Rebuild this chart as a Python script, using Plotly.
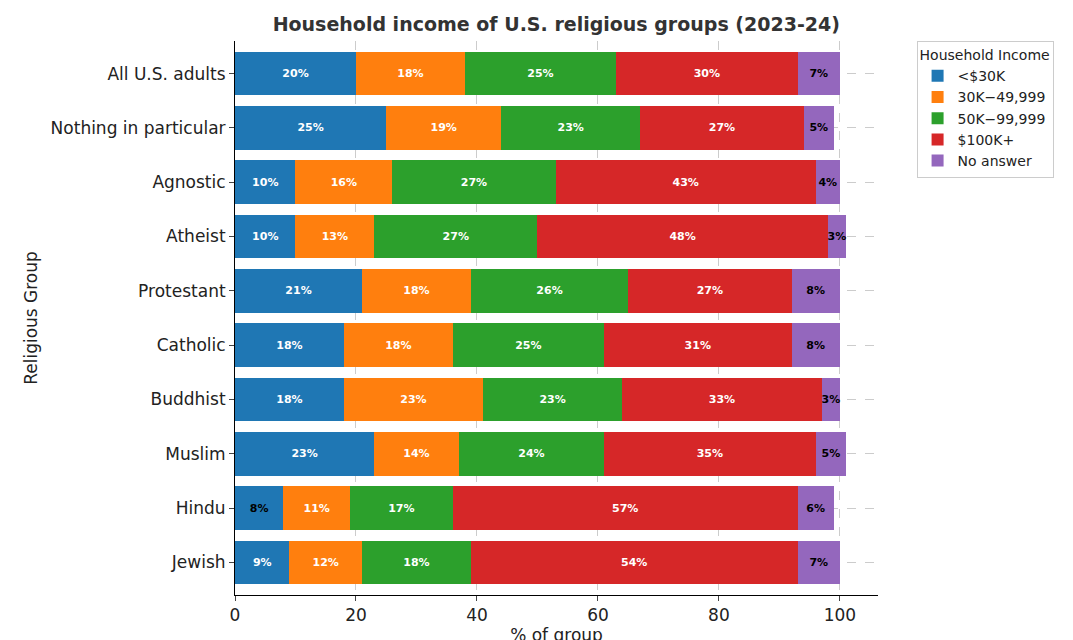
import plotly.graph_objects as go

groups = ["All U.S. adults", "Nothing in particular", "Agnostic", "Atheist", "Protestant",
          "Catholic", "Buddhist", "Muslim", "Hindu", "Jewish"]
series_names = ["<$30K", "30K−49,999", "50K−99,999", "$100K+", "No answer"]
lt30 = [20, 25, 10, 10, 21, 18, 18, 23, 8, 9]
s30_50 = [18, 19, 16, 13, 18, 18, 23, 14, 11, 12]
s50_100 = [25, 23, 27, 27, 26, 25, 23, 24, 17, 18]
s100 = [30, 27, 43, 48, 27, 31, 33, 35, 57, 54]
noans = [7, 5, 4, 3, 8, 8, 3, 5, 6, 7]
colors = ["#1f77b4", "#ff7f0e", "#2ca02c", "#d62728", "#9467bd"]

fig = go.Figure()
for name, vals, col in zip(series_names, [lt30, s30_50, s50_100, s100, noans], colors):
    if name == "No answer":
        tcol = ["black"] * len(vals)
    elif name == "<$30K":
        tcol = ["black" if v < 9 else "white" for v in vals]
    else:
        tcol = ["white"] * len(vals)
    fig.add_trace(go.Bar(
        y=groups, x=vals, name=name, orientation="h", marker=dict(color=col, line_width=0),
        width=0.8, text=[f"{v}%" for v in vals], textposition="inside", insidetextanchor="middle",
        textangle=0, textfont=dict(color=tcol, size=11, family="DejaVu Sans"),
        texttemplate="<b>%{text}</b>", constraintext="none", cliponaxis=False))

fig.update_layout(
    barmode="stack", width=1073, height=640, plot_bgcolor="white", paper_bgcolor="white",
    margin=dict(l=227, r=203, t=33, b=53),
    font=dict(family="DejaVu Sans", color="#222"),
    title=dict(text="<b>Household income of U.S. religious groups (2023-24)</b>", x=0.511, xanchor="center",
               y=0.985, yanchor="top", font=dict(size=19, color="#333")),
    xaxis=dict(range=[0, 106.3], tickvals=[0, 20, 40, 60, 80, 100], showgrid=True, gridcolor="#cccccc",
               griddash="dash", showline=True, linecolor="black", ticks="outside", zeroline=False,
               automargin=False, tickfont=dict(size=17),
               title=dict(text="% of group", font=dict(size=17), standoff=4)),
    yaxis=dict(categoryorder="array", categoryarray=groups[::-1], range=[-0.6, 9.6], showgrid=True,
               gridcolor="#cccccc", griddash="dash", showline=True, linecolor="black", ticks="outside",
               automargin=False, tickfont=dict(size=17),
               title=dict(text="Religious Group", font=dict(size=17), standoff=8)),
    legend=dict(x=1.06, y=1.0, xanchor="left", yanchor="top", bordercolor="#cccccc", borderwidth=1,
                title=dict(text="Household Income", side="top", font=dict(size=14)),
                font=dict(size=14), traceorder="normal"),
)
fig.write_html("out.html")
